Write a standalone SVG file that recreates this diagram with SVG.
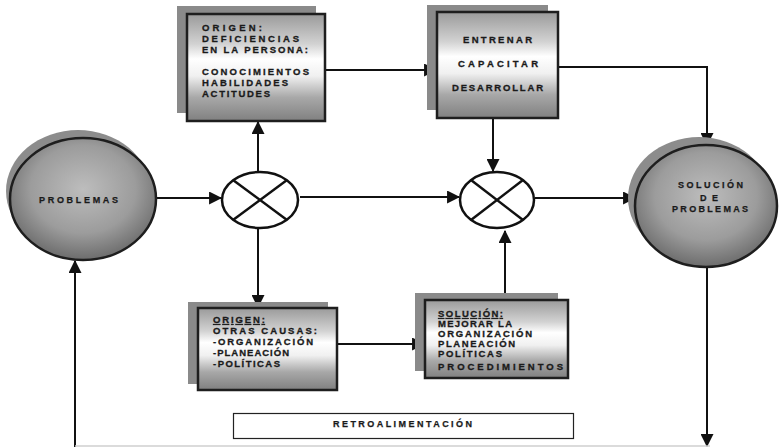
<svg xmlns="http://www.w3.org/2000/svg" width="779" height="447" viewBox="0 0 779 447">
  <defs>
    <linearGradient id="boxFill" x1="0" y1="0" x2="0" y2="1">
      <stop offset="0" stop-color="#9a9a9a"/>
      <stop offset="0.28" stop-color="#d2d2d2"/>
      <stop offset="0.42" stop-color="#ffffff"/>
      <stop offset="0.58" stop-color="#f0f0f0"/>
      <stop offset="0.78" stop-color="#a8a8a8"/>
      <stop offset="1" stop-color="#808080"/>
    </linearGradient>
    <radialGradient id="ballFill" cx="0.5" cy="0.42" r="0.6">
      <stop offset="0" stop-color="#bdbdbd"/>
      <stop offset="0.6" stop-color="#9c9c9c"/>
      <stop offset="1" stop-color="#686868"/>
    </radialGradient>
    <marker id="arrow" markerUnits="userSpaceOnUse" markerWidth="13" markerHeight="13" viewBox="0 0 12 12" refX="11" refY="6" orient="auto">
      <path d="M0,0 L12,6 L0,12 Z" fill="#111"/>
    </marker>
  </defs>
  <style>
    .shadow { fill: #8a8a8a; }
    .box { fill: url(#boxFill); stroke: #1e1e1e; stroke-width: 2.5; }
    .ball { fill: url(#ballFill); stroke: #1e1e1e; stroke-width: 2.5; }
    .ballShadow { fill: #8c8c8c; }
    .junction { fill: #fff; stroke: #111; stroke-width: 2.5; }
    .cross { stroke: #111; stroke-width: 2.5; }
    .t { font-family: "Liberation Sans", Arial, sans-serif; font-weight: bold; font-size: 9.5px; fill: #1a1a1a; stroke: #1a1a1a; stroke-width: 0.3; }
    .tc { font-family: "Liberation Sans", Arial, sans-serif; font-weight: bold; font-size: 9px; fill: #1a1a1a; stroke: #1a1a1a; stroke-width: 0.25; }
    .u { text-decoration: underline; }
    .conn { fill: none; stroke: #111; stroke-width: 2; }
  </style>

  <!-- connectors -->
  <g id="connectors">
    <path class="conn" d="M157,198 H221" marker-end="url(#arrow)"/>
    <path class="conn" d="M258,172 V122" marker-end="url(#arrow)"/>
    <path class="conn" d="M258,229 V307" marker-end="url(#arrow)"/>
    <path class="conn" d="M325,70 H436" marker-end="url(#arrow)"/>
    <path class="conn" d="M300,197 H459" marker-end="url(#arrow)"/>
    <path class="conn" d="M493,118 V171" marker-end="url(#arrow)"/>
    <path class="conn" d="M337,344 H424" marker-end="url(#arrow)"/>
    <path class="conn" d="M505,300 V231" marker-end="url(#arrow)"/>
    <path class="conn" d="M558,67 H707 V145" marker-end="url(#arrow)"/>
    <path class="conn" d="M535,198 H635" marker-end="url(#arrow)"/>
    <path class="conn" d="M707,267 V446" marker-end="url(#arrow)"/>
    <path class="conn" d="M75,447 V261" marker-end="url(#arrow)"/>
    <path d="M75,446 H710" fill="none" stroke="#cfcfcf" stroke-width="1.5"/>
  </g>

  <!-- PROBLEMAS -->
  <g id="problemas">
    <ellipse class="ballShadow" cx="78" cy="191" rx="72" ry="61"/>
    <ellipse class="ball" cx="83" cy="199" rx="73" ry="61"/>
    <text class="tc" x="39" y="203" textLength="79" lengthAdjust="spacing">PROBLEMAS</text>
  </g>

  <!-- junction left -->
  <g id="junction1">
    <ellipse class="junction" cx="260" cy="200" rx="38" ry="28"/>
    <line class="cross" x1="233" y1="180" x2="287" y2="220"/>
    <line class="cross" x1="287" y1="180" x2="233" y2="220"/>
  </g>

  <!-- junction right -->
  <g id="junction2">
    <ellipse class="junction" cx="497" cy="200" rx="37" ry="28"/>
    <line class="cross" x1="471" y1="180" x2="523" y2="220"/>
    <line class="cross" x1="523" y1="180" x2="471" y2="220"/>
  </g>

  <!-- ORIGEN: deficiencias en la persona -->
  <g id="origen-persona">
    <rect class="shadow" x="177" y="6" width="139" height="107"/>
    <rect class="box" x="187" y="14" width="138" height="107"/>
    <text class="t" x="202" y="31" textLength="60" lengthAdjust="spacing">ORIGEN:</text>
    <text class="t" x="202" y="42" textLength="97" lengthAdjust="spacing">DEFICIENCIAS</text>
    <text class="t" x="202" y="53" textLength="106" lengthAdjust="spacing">EN LA PERSONA:</text>
    <text class="t" x="202" y="75" textLength="107" lengthAdjust="spacing">CONOCIMIENTOS</text>
    <text class="t" x="202" y="86" textLength="86" lengthAdjust="spacing">HABILIDADES</text>
    <text class="t" x="202" y="97" textLength="68" lengthAdjust="spacing">ACTITUDES</text>
  </g>

  <!-- ENTRENAR / CAPACITAR / DESARROLLAR -->
  <g id="capacitar">
    <rect class="shadow" x="427" y="5" width="121" height="105"/>
    <rect class="box" x="437" y="12" width="121" height="106"/>
    <text class="t" x="463" y="43" textLength="69" lengthAdjust="spacing">ENTRENAR</text>
    <text class="t" x="458" y="67" font-size="11" textLength="80" lengthAdjust="spacing">CAPACITAR</text>
    <text class="t" x="452" y="91" textLength="91" lengthAdjust="spacing">DESARROLLAR</text>
  </g>

  <!-- ORIGEN: otras causas -->
  <g id="origen-otras">
    <rect class="shadow" x="188" y="302" width="140" height="82"/>
    <rect class="box" x="198" y="308" width="139" height="82"/>
    <text class="t u" x="213" y="323" textLength="52" lengthAdjust="spacing">ORIGEN:</text>
    <text class="t" x="213" y="334" textLength="104" lengthAdjust="spacing">OTRAS CAUSAS:</text>
    <text class="t" x="213" y="345" textLength="100" lengthAdjust="spacing">-ORGANIZACIÓN</text>
    <text class="t" x="213" y="356" textLength="76" lengthAdjust="spacing">-PLANEACIÓN</text>
    <text class="t" x="213" y="367" textLength="67" lengthAdjust="spacing">-POLÍTICAS</text>
  </g>

  <!-- SOLUCIÓN: mejorar la organización -->
  <g id="solucion-organizacion">
    <rect class="shadow" x="415" y="293" width="143" height="78"/>
    <rect class="box" x="425" y="300" width="143" height="78"/>
    <text class="t u" x="438" y="317" textLength="65" lengthAdjust="spacing">SOLUCIÓN:</text>
    <text class="t" x="438" y="327" textLength="74" lengthAdjust="spacing">MEJORAR LA</text>
    <text class="t" x="438" y="337" textLength="94" lengthAdjust="spacing">ORGANIZACIÓN</text>
    <text class="t" x="438" y="347" textLength="77" lengthAdjust="spacing">PLANEACIÓN</text>
    <text class="t" x="438" y="357" textLength="64" lengthAdjust="spacing">POLÍTICAS</text>
    <text class="t" x="438" y="370" textLength="125" lengthAdjust="spacing">PROCEDIMIENTOS</text>
  </g>

  <!-- SOLUCIÓN DE PROBLEMAS -->
  <g id="solucion-problemas">
    <ellipse class="ballShadow" cx="699" cy="198" rx="71" ry="61"/>
    <ellipse class="ball" cx="706" cy="206" rx="71" ry="61"/>
    <text class="tc" x="678" y="188" textLength="65" lengthAdjust="spacing">SOLUCIÓN</text>
    <text class="tc" x="700" y="201" textLength="18" lengthAdjust="spacing">DE</text>
    <text class="tc" x="672" y="212" textLength="76" lengthAdjust="spacing">PROBLEMAS</text>
  </g>

  <!-- RETROALIMENTACIÓN label -->
  <g id="retroalimentacion">
    <rect x="233.5" y="413.5" width="340" height="25" fill="#fff" stroke="#222" stroke-width="1.2"/>
    <text class="tc" x="333" y="427" font-size="8.5" textLength="139" lengthAdjust="spacing">RETROALIMENTACIÓN</text>
  </g>
</svg>
